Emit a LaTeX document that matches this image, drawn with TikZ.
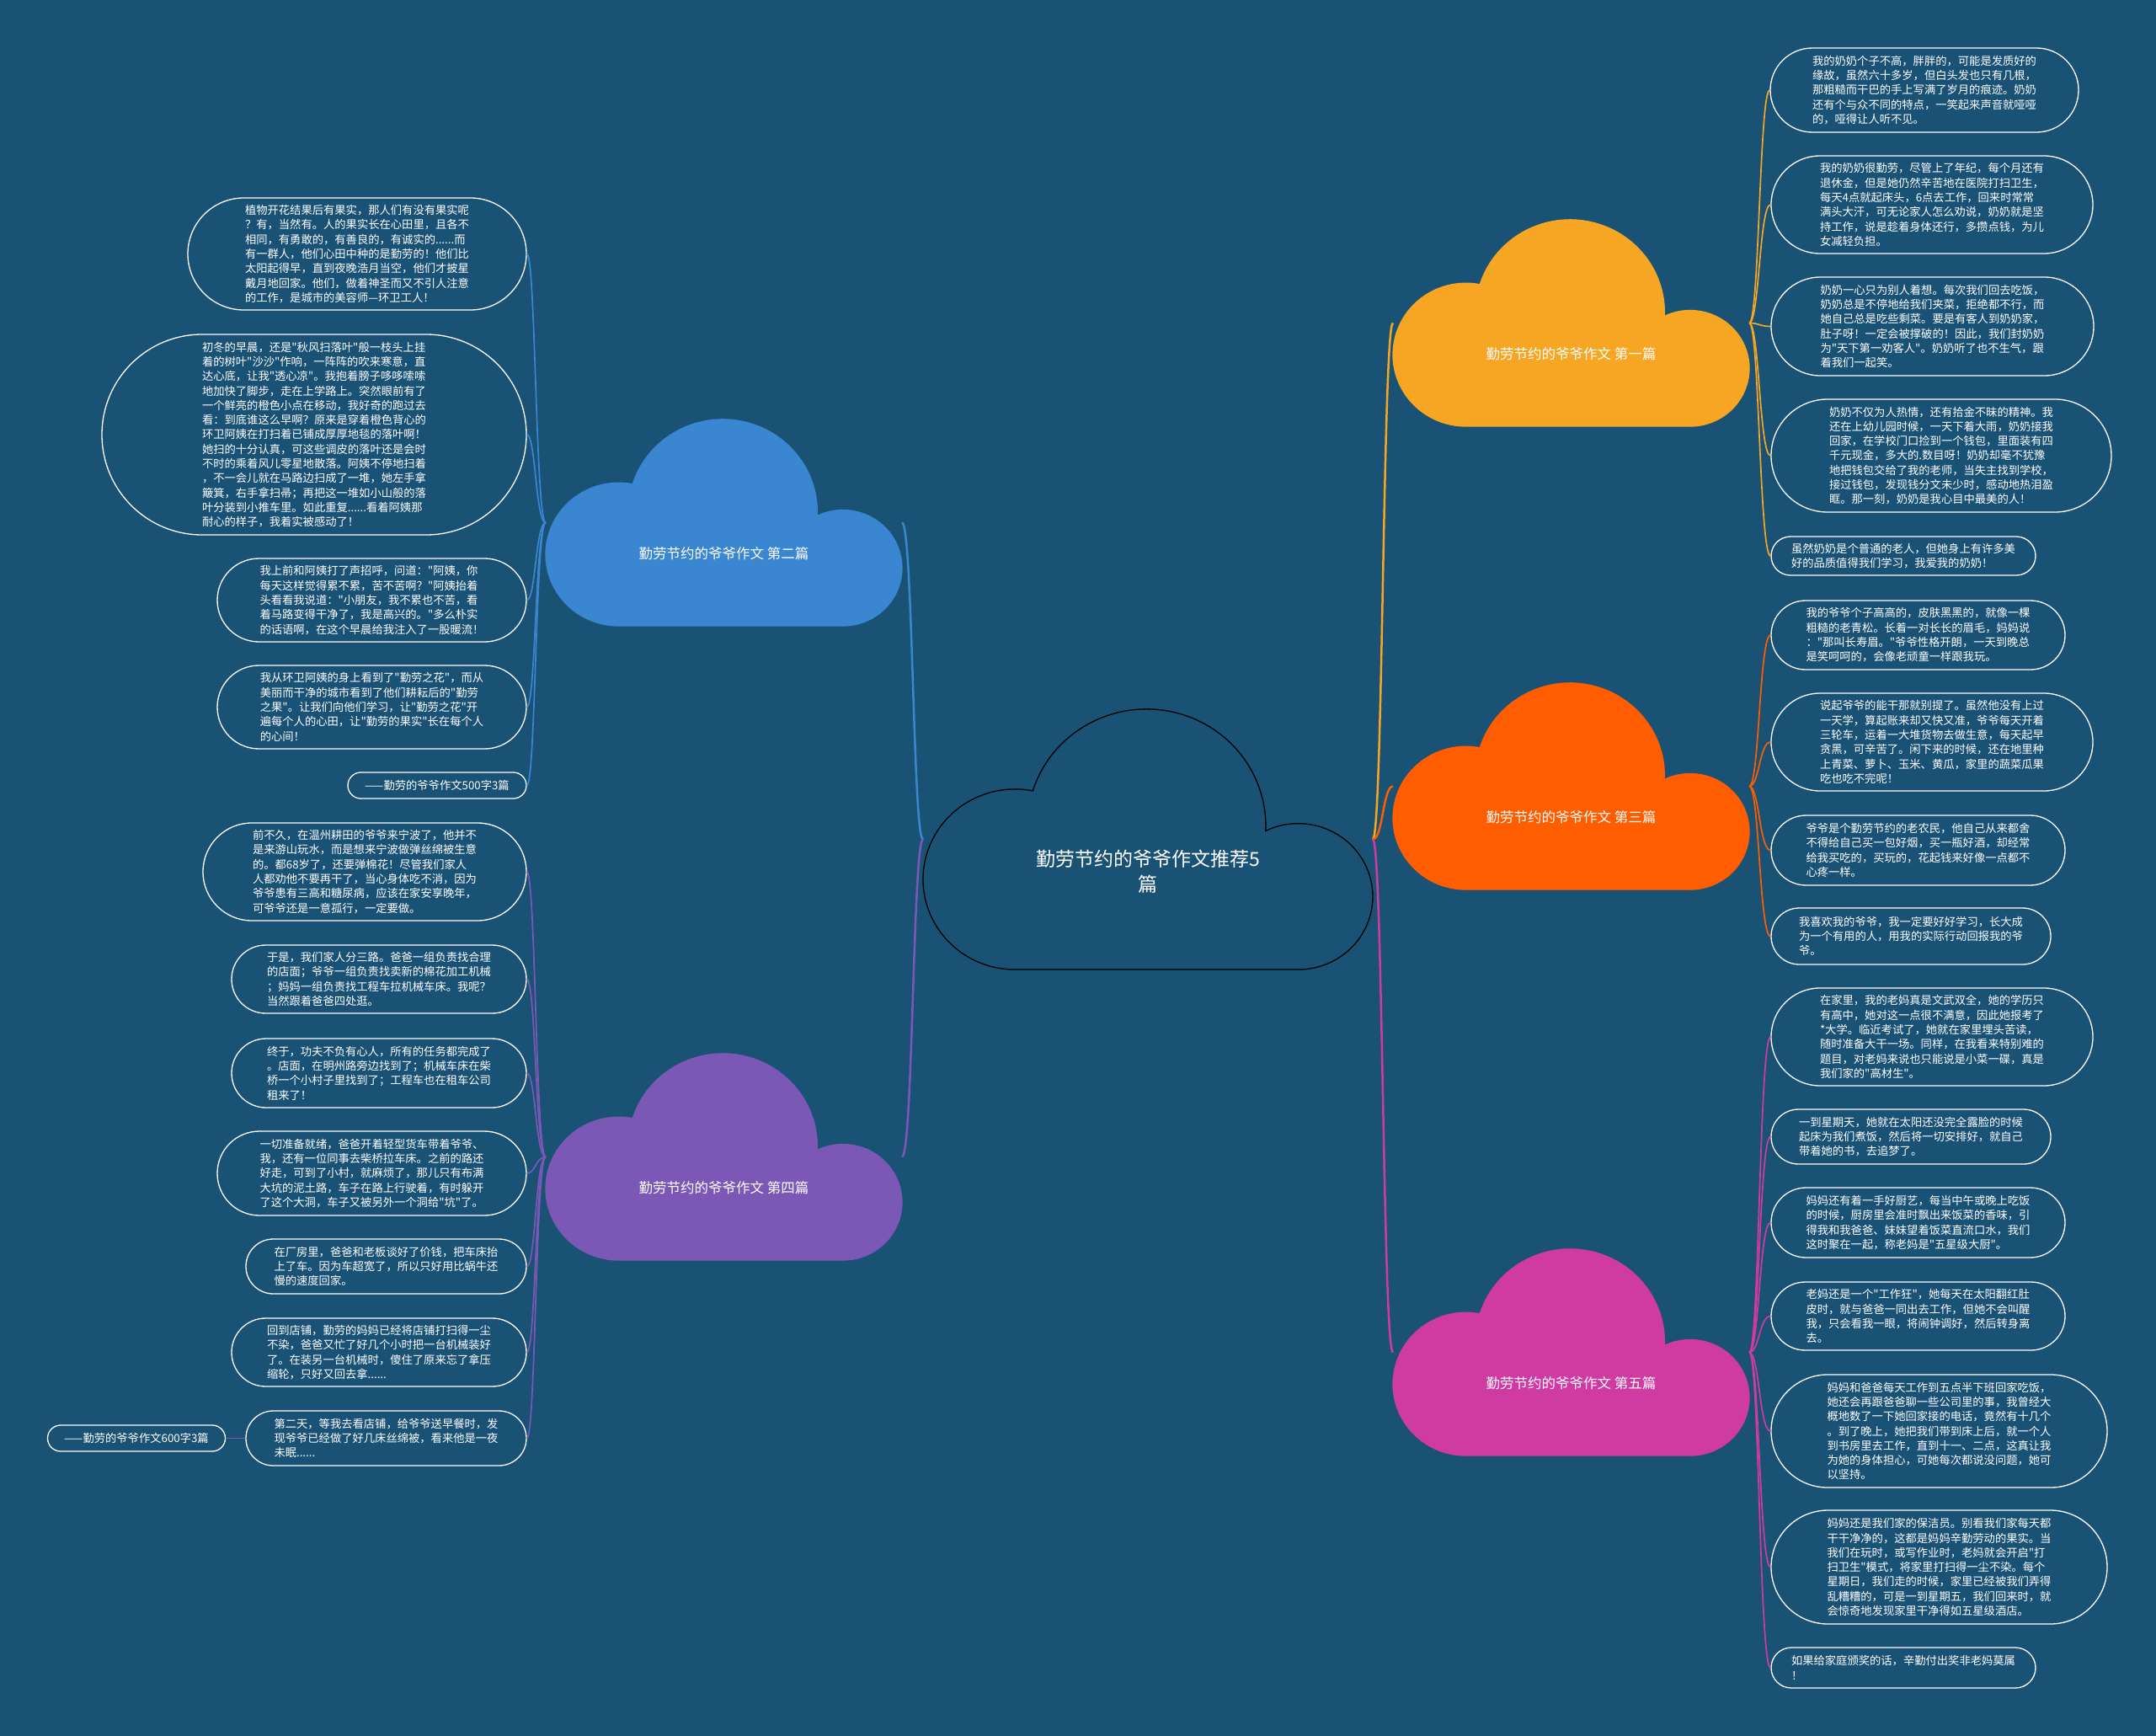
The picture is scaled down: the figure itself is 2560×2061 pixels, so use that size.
\documentclass[tikz,border=0pt]{standalone}
\usepackage{fontspec}
\newfontfamily\cjk{Noto Sans CJK SC}
\usetikzlibrary{shapes.misc,calc}
\definecolor{bgc}{RGB}{25,82,117}
\definecolor{cyellow}{RGB}{246,166,35}
\definecolor{cblue}{RGB}{58,134,209}
\definecolor{corange}{RGB}{255,93,0}
\definecolor{cpurple}{RGB}{124,88,182}
\definecolor{cmagenta}{RGB}{207,58,163}
\newcommand\mycloud[5]{\begin{scope}[shift={(#1.north west)},xscale=#4,yscale=#5]
\filldraw[fill=#2,draw=#3,line width=1.3pt] (105,-303) arc[start angle=270,end angle=78.9,radius=105] arc[start angle=162.5,end angle=-2.4,radius=136] arc[start angle=115.9,end angle=-90,radius=85] -- cycle;
\end{scope}}
\tikzset{
  leaf/.style={rounded rectangle, draw=white, line width=1.3pt, text=white, align=left, inner xsep=0pt, inner ysep=0pt, font=\cjk\fontsize{13.3pt}{17.3pt}\selectfont},
  lf/.style 2 args={leaf, minimum width=#1pt, minimum height=#2pt},
  cloudbox/.style={rectangle, draw=none, inner sep=0pt, outer sep=0pt},
  cloudlabel/.style={text=white, font=\cjk\fontsize{16.5pt}{20pt}\selectfont, inner sep=0pt},
  titletext/.style={text=white, font=\cjk\fontsize{23pt}{30pt}\selectfont, align=center, inner sep=0pt},
  mainline/.style={line width=2.5pt},
  subline/.style={line width=1.7pt},
}
\begin{document}
\begin{tikzpicture}[x=1pt,y=1pt]
\useasboundingbox (0,0) rectangle (2560,-2061);
\fill[bgc] (0,0) rectangle (2560,-2061);

% cloud frames
\node[cloudbox, minimum width=534pt, minimum height=309pt] (c0) at (1363,-996.5) {};
\node[cloudbox, minimum width=423pt, minimum height=245pt] (c1) at (1865.5,-383.5) {};
\node[cloudbox, minimum width=423pt, minimum height=245pt] (c2) at (859.5,-620.5) {};
\node[cloudbox, minimum width=423pt, minimum height=245pt] (c3) at (1865.5,-933.5) {};
\node[cloudbox, minimum width=423pt, minimum height=245pt] (c4) at (859.5,-1373.5) {};
\node[cloudbox, minimum width=423pt, minimum height=245pt] (c5) at (1865.5,-1605.5) {};

\coordinate (hL) at ([xshift=-12pt]c0.west);
\coordinate (hR) at ([xshift=12pt]c0.east);
\coordinate (h1) at ([xshift=12pt]c1.east);
\coordinate (h2) at ([xshift=-12pt]c2.west);
\coordinate (h3) at ([xshift=12pt]c3.east);
\coordinate (h4) at ([xshift=-12pt]c4.west);
\coordinate (h5) at ([xshift=12pt]c5.east);

% main connectors
\draw[mainline,cblue] (c0.west) .. controls (hL) and (hL |- c2.east) .. (c2.east);
\draw[mainline,cpurple] (c0.west) .. controls (hL) and (hL |- c4.east) .. (c4.east);
\draw[mainline,cyellow] (c0.east) .. controls (hR) and (hR |- c1.west) .. (c1.west);
\draw[mainline,corange] (c0.east) .. controls (hR) and (hR |- c3.west) .. (c3.west);
\draw[mainline,cmagenta] (c0.east) .. controls (hR) and (hR |- c5.west) .. (c5.west);

% clouds
\mycloud{c0}{bgc}{black}{1.041}{1.02}
\mycloud{c1}{cyellow}{cyellow}{0.8246}{0.8086}
\mycloud{c2}{cblue}{cblue}{0.8246}{0.8086}
\mycloud{c3}{corange}{corange}{0.8246}{0.8086}
\mycloud{c4}{cpurple}{cpurple}{0.8246}{0.8086}
\mycloud{c5}{cmagenta}{cmagenta}{0.8246}{0.8086}

\node[titletext] (c0t) at (1363,-1035) {勤劳节约的爷爷作文推荐5\\篇};
\node[cloudlabel] (c1t) at (1865.5,-420) {勤劳节约的爷爷作文 第一篇};
\node[cloudlabel] (c2t) at (859.5,-657) {勤劳节约的爷爷作文 第二篇};
\node[cloudlabel] (c3t) at (1865.5,-970) {勤劳节约的爷爷作文 第三篇};
\node[cloudlabel] (c4t) at (859.5,-1410) {勤劳节约的爷爷作文 第四篇};
\node[cloudlabel] (c5t) at (1865.5,-1642) {勤劳节约的爷爷作文 第五篇};

% ---- left blue leaves
\node[lf={402}{133}] (l1) at (424,-301.5) {植物开花结果后有果实，那人们有没有果实呢\\？有，当然有。人的果实长在心田里，且各不\\相同，有勇敢的，有善良的，有诚实的......而\\有一群人，他们心田中种的是勤劳的！他们比\\太阳起得早，直到夜晚浩月当空，他们才披星\\戴月地回家。他们，做着神圣而又不引人注意\\的工作，是城市的美容师—环卫工人！};
\node[lf={504}{238}] (l2) at (373,-516) {初冬的早晨，还是"秋风扫落叶"般一枝头上挂\\着的树叶"沙沙"作响，一阵阵的吹来寒意，直\\达心底，让我"透心凉"。我抱着膀子哆哆嗦嗦\\地加快了脚步，走在上学路上。突然眼前有了\\一个鲜亮的橙色小点在移动，我好奇的跑过去\\看：到底谁这么早啊？原来是穿着橙色背心的\\环卫阿姨在打扫着已铺成厚厚地毯的落叶啊！\\她扫的十分认真，可这些调皮的落叶还是会时\\不时的乘着风儿零星地散落。阿姨不停地扫着\\，不一会儿就在马路边扫成了一堆，她左手拿\\簸箕，右手拿扫帚；再把这一堆如小山般的落\\叶分装到小推车里。如此重复......看着阿姨那\\耐心的样子，我着实被感动了！};
\node[lf={367}{99}] (l3) at (441.5,-712.5) {我上前和阿姨打了声招呼，问道："阿姨，你\\每天这样觉得累不累，苦不苦啊？"阿姨抬着\\头看看我说道："小朋友，我不累也不苦，看\\着马路变得干净了，我是高兴的。"多么朴实\\的话语啊，在这个早晨给我注入了一股暖流！};
\node[lf={367}{99}] (l4) at (441.5,-839.5) {我从环卫阿姨的身上看到了"勤劳之花"，而从\\美丽而干净的城市看到了他们耕耘后的"勤劳\\之果"。让我们向他们学习，让"勤劳之花"开\\遍每个人的心田，让"勤劳的果实"长在每个人\\的心间！};
\node[lf={212}{31}] (l5) at (519,-932.5) {——勤劳的爷爷作文500字3篇};
\foreach \n in {l1,l2,l3,l4,l5}
  \draw[subline,cblue] (c2.west) .. controls (h2) and (h2 |- \n.east) .. (\n.east);

% ---- left purple leaves
\node[lf={384}{116}] (p1) at (433,-1035) {前不久，在温州耕田的爷爷来宁波了，他并不\\是来游山玩水，而是想来宁波做弹丝绵被生意\\的。都68岁了，还要弹棉花！尽管我们家人\\人都劝他不要再干了，当心身体吃不消，因为\\爷爷患有三高和糖尿病，应该在家安享晚年，\\可爷爷还是一意孤行，一定要做。};
\node[lf={350}{81}] (p2) at (450,-1162.5) {于是，我们家人分三路。爸爸一组负责找合理\\的店面；爷爷一组负责找卖新的棉花加工机械\\；妈妈一组负责找工程车拉机械车床。我呢？\\当然跟着爸爸四处逛。};
\node[lf={350}{82}] (p3) at (450,-1274) {终于，功夫不负有心人，所有的任务都完成了\\。店面，在明州路旁边找到了；机械车床在柴\\桥一个小村子里找到了；工程车也在租车公司\\租来了！};
\node[lf={367}{100}] (p4) at (441.5,-1393) {一切准备就绪，爸爸开着轻型货车带着爷爷、\\我，还有一位同事去柴桥拉车床。之前的路还\\好走，可到了小村，就麻烦了，那儿只有布满\\大坑的泥土路，车子在路上行驶着，有时躲开\\了这个大洞，车子又被另外一个洞给"坑"了。};
\node[lf={333}{65}] (p5) at (458.5,-1503.5) {在厂房里，爸爸和老板谈好了价钱，把车床抬\\上了车。因为车超宽了，所以只好用比蜗牛还\\慢的速度回家。};
\node[lf={350}{81}] (p6) at (450,-1605.5) {回到店铺，勤劳的妈妈已经将店铺打扫得一尘\\不染，爸爸又忙了好几个小时把一台机械装好\\了。在装另一台机械时，傻住了原来忘了拿压\\缩轮，只好又回去拿......};
\node[lf={333}{65}] (p7) at (458.5,-1707.5) {第二天，等我去看店铺，给爷爷送早餐时，发\\现爷爷已经做了好几床丝绵被，看来他是一夜\\未眠......};
\node[lf={211}{31}] (p8) at (162,-1707.5) {——勤劳的爷爷作文600字3篇};
\foreach \n in {p1,p2,p3,p4,p5,p6,p7}
  \draw[subline,cpurple] (c4.west) .. controls (h4) and (h4 |- \n.east) .. (\n.east);
\draw[subline,cpurple] (p7.west) -- (p8.east);

% ---- right yellow leaves
\node[lf={366}{100}] (r1) at (2285,-107) {我的奶奶个子不高，胖胖的，可能是发质好的\\缘故，虽然六十多岁，但白头发也只有几根，\\那粗糙而干巴的手上写满了岁月的痕迹。奶奶\\还有个与众不同的特点，一笑起来声音就哑哑\\的，哑得让人听不见。};
\node[lf={382}{116}] (r2) at (2294,-243) {我的奶奶很勤劳，尽管上了年纪，每个月还有\\退休金，但是她仍然辛苦地在医院打扫卫生，\\每天4点就起床头，6点去工作，回来时常常\\满头大汗，可无论家人怎么劝说，奶奶就是坚\\持工作，说是趁着身体还行，多攒点钱，为儿\\女减轻负担。};
\node[lf={383}{117}] (r3) at (2294.5,-387.5) {奶奶一心只为别人着想。每次我们回去吃饭，\\奶奶总是不停地给我们夹菜，拒绝都不行，而\\她自己总是吃些剩菜。要是有客人到奶奶家，\\肚子呀！一定会被撑破的！因此，我们封奶奶\\为"天下第一劝客人"。奶奶听了也不生气，跟\\着我们一起笑。};
\node[lf={404}{134}] (r4) at (2305,-541) {奶奶不仅为人热情，还有拾金不昧的精神。我\\还在上幼儿园时候，一天下着大雨，奶奶接我\\回家，在学校门口捡到一个钱包，里面装有四\\千元现金，多大的.数目呀！奶奶却毫不犹豫\\地把钱包交给了我的老师，当失主找到学校，\\接过钱包，发现钱分文未少时，感动地热泪盈\\眶。那一刻，奶奶是我心目中最美的人！};
\node[lf={314}{46}] (r5) at (2260,-660) {虽然奶奶是个普通的老人，但她身上有许多美\\好的品质值得我们学习，我爱我的奶奶！};
\foreach \n in {r1,r2,r3,r4,r5}
  \draw[subline,cyellow] (c1.east) .. controls (h1) and (h1 |- \n.west) .. (\n.west);

% ---- right orange leaves
\node[lf={349}{82}] (r6) at (2277.5,-754) {我的爷爷个子高高的，皮肤黑黑的，就像一棵\\粗糙的老青松。长着一对长长的眉毛，妈妈说\\："那叫长寿眉。"爷爷性格开朗，一天到晚总\\是笑呵呵的，会像老顽童一样跟我玩。};
\node[lf={382}{116}] (r7) at (2294,-881) {说起爷爷的能干那就别提了。虽然他没有上过\\一天学，算起账来却又快又准，爷爷每天开着\\三轮车，运着一大堆货物去做生意，每天起早\\贪黑，可辛苦了。闲下来的时候，还在地里种\\上青菜、萝卜、玉米、黄瓜，家里的蔬菜瓜果\\吃也吃不完呢！};
\node[lf={349}{83}] (r8) at (2277.5,-1009.5) {爷爷是个勤劳节约的老农民，他自己从来都舍\\不得给自己买一包好烟，买一瓶好酒，却经常\\给我买吃的，买玩的，花起钱来好像一点都不\\心疼一样。};
\node[lf={332}{67}] (r9) at (2269,-1111.5) {我喜欢我的爷爷，我一定要好好学习，长大成\\为一个有用的人，用我的实际行动回报我的爷\\爷。};
\foreach \n in {r6,r7,r8,r9}
  \draw[subline,corange] (c3.east) .. controls (h3) and (h3 |- \n.west) .. (\n.west);

% ---- right magenta leaves
\node[lf={382}{116}] (r10) at (2294,-1231) {在家里，我的老妈真是文武双全，她的学历只\\有高中，她对这一点很不满意，因此她报考了\\*大学。临近考试了，她就在家里埋头苦读，\\随时准备大干一场。同样，在我看来特别难的\\题目，对老妈来说也只能说是小菜一碟，真是\\我们家的"高材生"。};
\node[lf={332}{65}] (r11) at (2269,-1349.5) {一到星期天，她就在太阳还没完全露脸的时候\\起床为我们煮饭，然后将一切安排好，就自己\\带着她的书，去追梦了。};
\node[lf={349}{83}] (r12) at (2277.5,-1451.5) {妈妈还有着一手好厨艺，每当中午或晚上吃饭\\的时候，厨房里会准时飘出来饭菜的香味，引\\得我和我爸爸、妹妹望着饭菜直流口水，我们\\这时聚在一起，称老妈是"五星级大厨"。};
\node[lf={349}{81}] (r13) at (2277.5,-1562.5) {老妈还是一个"工作狂"，她每天在太阳翻红肚\\皮时，就与爸爸一同出去工作，但她不会叫醒\\我，只会看我一眼，将闹钟调好，然后转身离\\去。};
\node[lf={399}{134}] (r14) at (2302.5,-1699) {妈妈和爸爸每天工作到五点半下班回家吃饭，\\她还会再跟爸爸聊一些公司里的事，我曾经大\\概地数了一下她回家接的电话，竟然有十几个\\。到了晚上，她把我们带到床上后，就一个人\\到书房里去工作，直到十一、二点，这真让我\\为她的身体担心，可她每次都说没问题，她可\\以坚持。};
\node[lf={399}{135}] (r15) at (2302.5,-1860.5) {妈妈还是我们家的保洁员。别看我们家每天都\\干干净净的，这都是妈妈辛勤劳动的果实。当\\我们在玩时，或写作业时，老妈就会开启"打\\扫卫生"模式，将家里打扫得一尘不染。每个\\星期日，我们走的时候，家里已经被我们弄得\\乱糟糟的，可是一到星期五，我们回来时，就\\会惊奇地发现家里干净得如五星级酒店。};
\node[lf={314}{48}] (r16) at (2260,-1980) {如果给家庭颁奖的话，辛勤付出奖非老妈莫属\\！};
\foreach \n in {r10,r11,r12,r13,r14,r15,r16}
  \draw[subline,cmagenta] (c5.east) .. controls (h5) and (h5 |- \n.west) .. (\n.west);
\end{tikzpicture}
\end{document}
